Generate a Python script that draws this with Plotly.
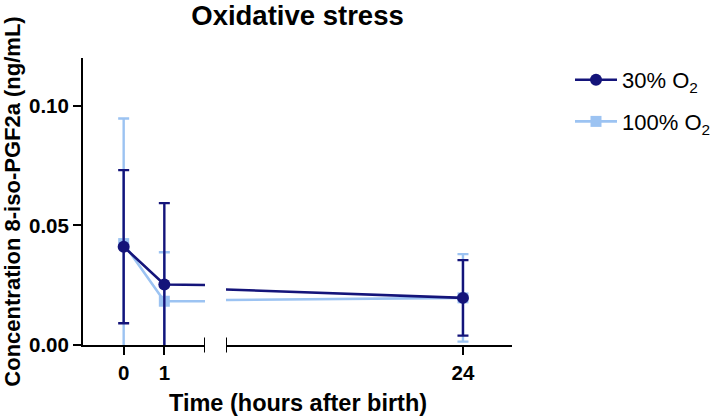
import plotly.graph_objects as go

# ---- data ----
times = [0, 1, 24]
tick_left = [0, 1]
tick_right = [24]
mean_30 = [0.0411, 0.0253, 0.0197]
err_30 = [0.0320, 0.0340, 0.0158]
mean_100 = [0.0424, 0.0183, 0.0197]
err_100 = [0.0523, 0.0205, 0.0183]
series_names = ["30% O<sub>2</sub>", "100% O<sub>2</sub>"]

NAVY = "#14147a"
LIGHT = "#9cc3f2"
FONT = "Liberation Sans, Arial, Helvetica, sans-serif"

left_range = [-1, 2]
right_range = [9.5, 27]

fig = go.Figure()

series = [
    (series_names[1], mean_100, err_100, LIGHT, "square", 11),
    (series_names[0], mean_30, err_30, NAVY, "circle", 12),
]

for i, (name, m, e, col, sym, size) in enumerate(series):
    for xa, show in (("x", True), ("x2", False)):
        fig.add_trace(go.Scatter(
            x=times, y=m, xaxis=xa, yaxis="y",
            mode="lines+markers", name=name,
            legendgroup=name, legendrank=2 - i,
            showlegend=show,
            line=dict(color=col, width=2.6),
            marker=dict(color=col, symbol=sym, size=size),
            error_y=dict(type="data", array=e, visible=True,
                         color=col, thickness=2.4, width=5.5),
            cliponaxis=True,
        ))

axis_common = dict(
    showline=True, linecolor="black", linewidth=2,
    ticks="outside", ticklen=8, tickwidth=2, tickcolor="black",
    showgrid=False, zeroline=False, automargin=False,
    tickfont=dict(family=FONT, size=20.5, color="black", weight="bold"),
)

fig.update_layout(
    width=718, height=417,
    margin=dict(l=83, r=206, t=58, b=72, autoexpand=False),
    plot_bgcolor="white", paper_bgcolor="white",
    title=dict(text="<b>Oxidative stress</b>", x=0.5, xref="paper",
               y=1 - 15 / 417, yref="container", yanchor="middle",
               font=dict(family=FONT, size=27.5, color="black")),
    xaxis=dict(domain=[0, 122 / 429], range=left_range,
               tickvals=tick_left, ticktext=[str(t) for t in tick_left],
               anchor="y", **axis_common),
    xaxis2=dict(domain=[143 / 429, 1], range=right_range,
                tickvals=tick_right, ticktext=[str(t) for t in tick_right],
                anchor="y", **axis_common),
    yaxis=dict(range=[0, 0.12], tickvals=[0, 0.05, 0.10],
               ticktext=["0.00", "0.05", "0.10"], anchor="x",
               title=dict(text="<b>Concentration 8-iso-PGF2a (ng/mL)</b>",
                          font=dict(family=FONT, size=22, color="black"),
                          standoff=11),
               **axis_common),
    legend=dict(x=1.1352, xanchor="left", y=1 - 1 / 287, yanchor="top",
                font=dict(family=FONT, size=22, color="black"),
                traceorder="grouped", tracegroupgap=10,
                bgcolor="rgba(0,0,0,0)", itemwidth=42),
    showlegend=True,
)

fig.add_annotation(text="<b>Time (hours after birth)</b>", xref="paper", yref="paper",
                   x=0.5, y=0, yshift=-58, yanchor="middle", showarrow=False,
                   font=dict(family=FONT, size=23.5, color="black"))

# break caps at the ends of the two x-axis segments
fig.add_shape(type="line", xref="x", yref="y domain", x0=left_range[1], x1=left_range[1],
              y0=-0.026, y1=0.026, line=dict(color="black", width=2))
fig.add_shape(type="line", xref="x2", yref="y domain", x0=right_range[0], x1=right_range[0],
              y0=-0.026, y1=0.026, line=dict(color="black", width=2))

fig.write_html("out.html", config={"displayModeBar": False},
               post_script="document.body.style.margin='0';")
